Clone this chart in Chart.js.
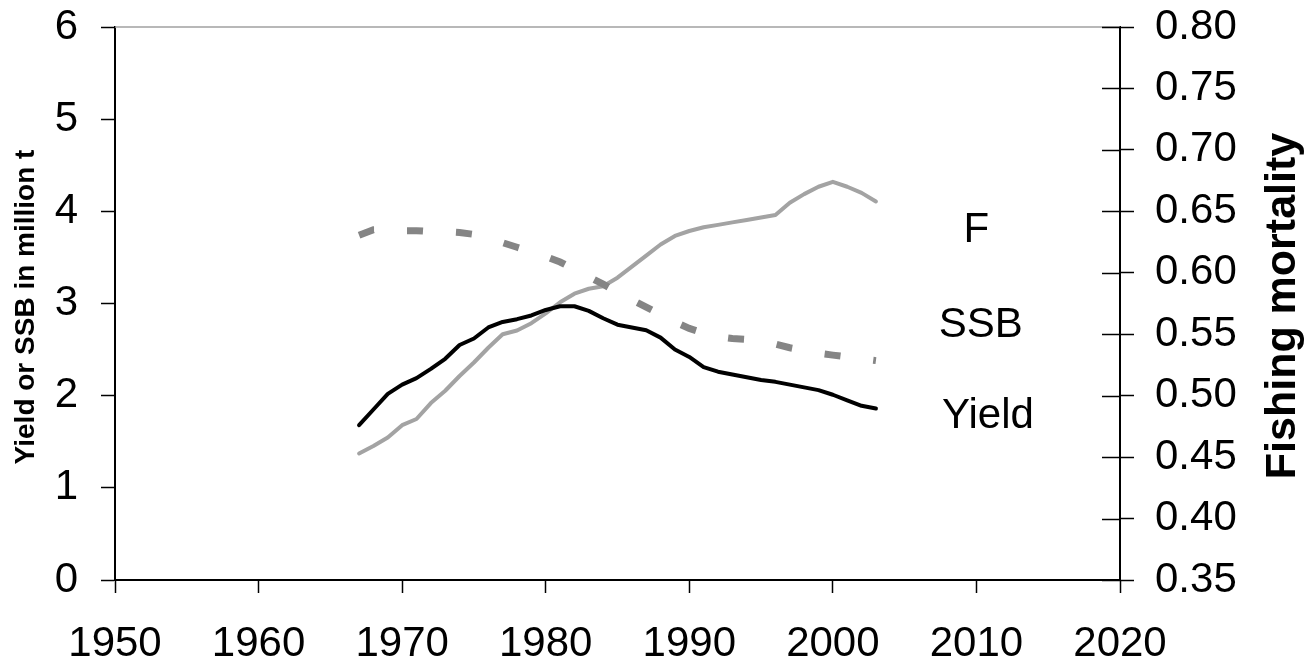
<!DOCTYPE html>
<html>
<head>
<meta charset="utf-8">
<script src="https://cdn.jsdelivr.net/npm/chart.js@4.4.1/dist/chart.umd.min.js"></script>
<style>
html,body{margin:0;padding:0;background:#fff;}
#wrap{width:1312px;height:665px;position:relative;}
</style>
</head>
<body>
<div id="wrap"><canvas id="c" width="1312" height="665"></canvas></div>
<script>
// ---- data ----
const years = [1967,1968,1969,1970,1971,1972,1973,1974,1975,1976,1977,1978,1979,1980,
  1981,1982,1983,1984,1985,1986,1987,1988,1989,1990,1991,1992,1993,1994,1995,1996,
  1997,1998,1999,2000,2001,2002,2003];
const yieldValues = [1.68,1.85,2.02,2.12,2.19,2.29,2.40,2.55,2.62,2.74,2.80,2.83,2.87,2.93,
  2.97,2.97,2.92,2.84,2.77,2.74,2.71,2.63,2.50,2.42,2.31,2.26,2.23,2.20,2.17,2.15,
  2.12,2.09,2.06,2.01,1.95,1.89,1.86];
const ssbValues = [3.74,3.80,3.80,3.79,3.79,3.78,3.78,3.77,3.75,3.71,3.66,3.61,3.56,3.51,
  3.45,3.37,3.29,3.21,3.12,3.04,2.96,2.88,2.80,2.73,2.68,2.64,2.62,2.61,2.59,2.56,
  2.52,2.49,2.46,2.44,2.42,2.40,2.38];
const fValues = [0.453,0.459,0.466,0.476,0.481,0.494,0.504,0.516,0.527,0.539,0.550,0.553,0.559,0.567,
  0.576,0.583,0.587,0.589,0.596,0.605,0.614,0.623,0.630,0.634,0.637,0.639,0.641,0.643,0.645,0.647,
  0.657,0.664,0.670,0.674,0.670,0.665,0.658];
const xTicks = [1950,1960,1970,1980,1990,2000,2010,2020];
const leftTicks = [0,1,2,3,4,5,6];
const rightTicks = [0.35,0.40,0.45,0.50,0.55,0.60,0.65,0.70,0.75,0.80];
const seriesNames = ['Yield','SSB','F'];
const leftTitle = 'Yield or SSB in million t';
const rightTitle = 'Fishing mortality';

// ---- chart ----
const FONT = '"Liberation Sans", Arial, sans-serif';
const pts = vals => years.map((yr,i)=>({x:yr, y:vals[i]}));
const noPad = s => { s.paddingTop = 0; s.paddingBottom = 0; s.paddingLeft = 0; s.paddingRight = 0; };

const decor = {
  id:'decor',
  afterDraw(chart){
    const ctx = chart.ctx, a = chart.chartArea;
    const sx = chart.scales.x, sy1 = chart.scales.y1;
    ctx.save();
    // top frame line
    ctx.strokeStyle = '#a0a0a0'; ctx.lineWidth = 1.5;
    ctx.beginPath(); ctx.moveTo(a.left, a.top); ctx.lineTo(a.right, a.top); ctx.stroke();
    // inner half of right-axis tick marks
    ctx.strokeStyle = '#000'; ctx.lineWidth = 1.5;
    sy1.ticks.forEach(t => {
      const p = Math.round(sy1.getPixelForValue(t.value)) + 0.5;
      ctx.beginPath(); ctx.moveTo(a.right - 18, p); ctx.lineTo(a.right, p); ctx.stroke();
    });
    // series labels next to line ends
    ctx.fillStyle = '#000';
    ctx.font = '42px ' + FONT;
    ctx.textAlign = 'center'; ctx.textBaseline = 'alphabetic';
    const anchors = {F:[2010.0, 3.667, 'y'], SSB:[2010.3, 2.636, 'y'], Yield:[2010.8, 1.649, 'y']};
    seriesNames.forEach(n => {
      const an = anchors[n];
      ctx.fillText(n, sx.getPixelForValue(an[0]), chart.scales[an[2]].getPixelForValue(an[1]));
    });
    // left axis title
    ctx.save();
    ctx.font = 'bold 28px ' + FONT;
    ctx.translate(34, 307); ctx.rotate(-Math.PI/2);
    ctx.textAlign = 'center'; ctx.textBaseline = 'alphabetic';
    ctx.fillText(leftTitle, 0, 0);
    ctx.restore();
    // right axis title
    ctx.save();
    ctx.font = 'bold 43px ' + FONT;
    ctx.translate(1295, 306); ctx.rotate(-Math.PI/2);
    ctx.textAlign = 'center'; ctx.textBaseline = 'alphabetic';
    ctx.fillText(rightTitle, 0, 0);
    ctx.restore();
    ctx.restore();
  }
};

new Chart(document.getElementById('c'), {
  type:'line',
  data:{
    datasets:[
      {label:seriesNames[0], data:pts(yieldValues), yAxisID:'y', borderColor:'#000', borderWidth:4,
       pointRadius:0, tension:0, borderJoinStyle:'round', borderCapStyle:'round'},
      {label:seriesNames[1], data:pts(ssbValues), yAxisID:'y', borderColor:'#858585', borderWidth:7,
       borderDash:[16,33], pointRadius:0, tension:0, borderCapStyle:'butt'},
      {label:seriesNames[2], data:pts(fValues), yAxisID:'y1', borderColor:'#a3a3a3', borderWidth:4,
       pointRadius:0, tension:0, borderJoinStyle:'round', borderCapStyle:'round'}
    ]
  },
  options:{
    responsive:false, animation:false, devicePixelRatio:1,
    layout:{padding:{top:27,left:0,right:0,bottom:0}, autoPadding:false},
    plugins:{legend:{display:false}, tooltip:{enabled:false}},
    scales:{
      x:{type:'linear', position:'bottom', min:1950, max:2020,
        afterBuildTicks:s=>{ s.ticks = xTicks.map(v=>({value:v})); },
        afterFit:s=>{ s.height = 85; noPad(s); },
        ticks:{callback:v=>String(v), font:{family:FONT, size:42}, color:'#000', padding:26, maxRotation:0, autoSkip:false},
        grid:{drawOnChartArea:false, drawTicks:true, tickLength:13, color:'#000', tickWidth:1.5},
        border:{color:'#000', width:2}
      },
      y:{type:'linear', position:'left', min:0, max:6,
        afterBuildTicks:s=>{ s.ticks = leftTicks.map(v=>({value:v})); },
        afterFit:s=>{ s.width = 115; noPad(s); },
        ticks:{font:{family:FONT, size:42}, color:'#000', padding:23},
        grid:{drawOnChartArea:false, drawTicks:true, tickLength:14, color:'#000', tickWidth:1.5},
        border:{color:'#000', width:2}
      },
      y1:{type:'linear', position:'right', min:0.35, max:0.80,
        afterBuildTicks:s=>{ s.ticks = rightTicks.map(v=>({value:v})); },
        afterFit:s=>{ s.width = 192; noPad(s); },
        ticks:{callback:v=>Number(v).toFixed(2), font:{family:FONT, size:42}, color:'#000', padding:21},
        grid:{drawOnChartArea:false, drawTicks:true, tickLength:14, color:'#000', tickWidth:1.5},
        border:{color:'#000', width:2}
      }
    }
  },
  plugins:[decor]
});
</script>
</body>
</html>
